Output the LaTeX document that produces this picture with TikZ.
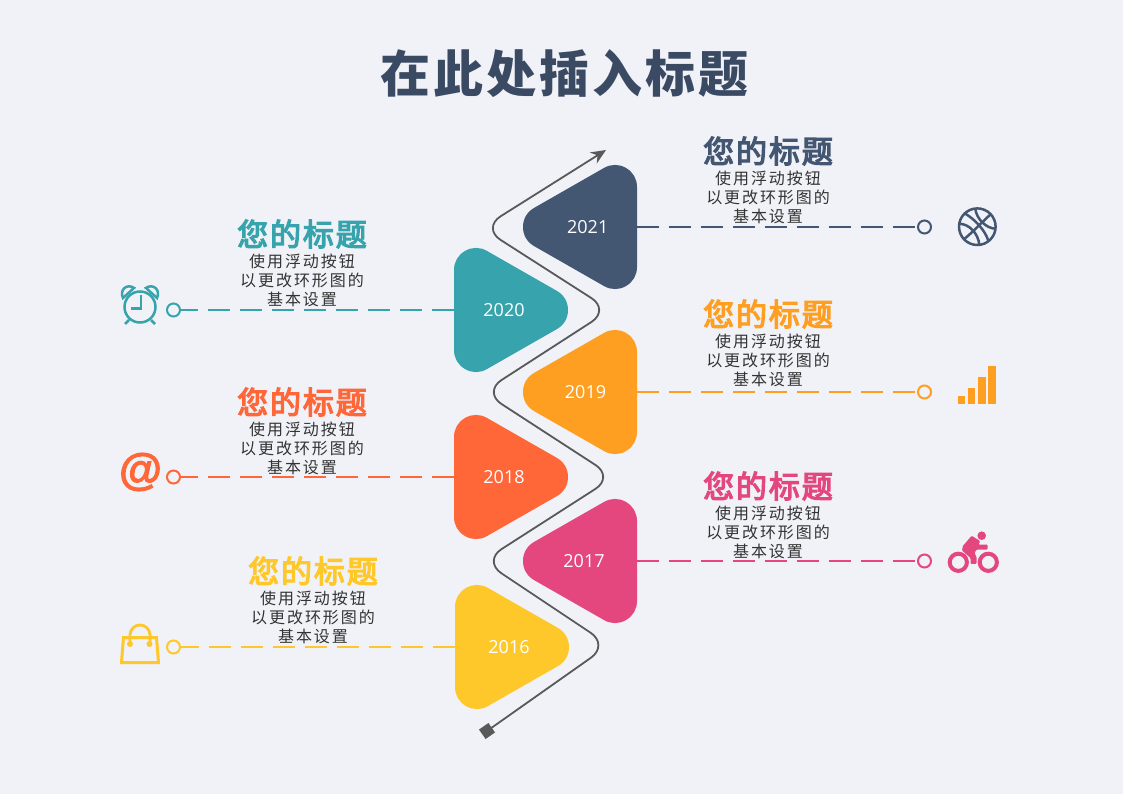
\documentclass[tikz,border=0pt]{standalone}
\usetikzlibrary{arrows.meta}
\usepackage{fontspec}
\setmainfont{Noto Sans CJK SC}
\newfontfamily\titlef[LetterSpace=6]{Noto Sans CJK SC}
\newfontfamily\headf[FakeBold=4,LetterSpace=6]{Noto Sans CJK SC}
\newfontfamily\bodyf[LetterSpace=12]{Noto Sans CJK SC}
\newfontfamily\yearf{Open Sans}
\newfontfamily\atf[FakeBold=2]{Liberation Sans}
\definecolor{bg}{HTML}{F0F2F7}
\definecolor{navy}{HTML}{435672}
\definecolor{titlec}{HTML}{3A4A63}
\definecolor{teal}{HTML}{37A3AC}
\definecolor{orange}{HTML}{FF9F22}
\definecolor{coral}{HTML}{FF6638}
\definecolor{pinkc}{HTML}{E4467E}
\definecolor{yellowc}{HTML}{FFC82A}
\definecolor{pathc}{HTML}{595959}
\tikzset{
  tri/.style={line width=44pt,line join=round},
  yearlabel/.style={text=white,font=\yearf\fontsize{18}{18}\selectfont,inner sep=0pt},
  headlabel/.style={font=\headf\fontsize{31}{31}\selectfont,inner sep=0pt},
  bodylabel/.style={font=\bodyf\fontsize{16}{19}\selectfont,align=center,text=black!80,inner sep=0pt},
  ring/.style={circle,draw,line width=2pt,fill=bg,minimum size=13pt,inner sep=0pt},
  leader/.style={line width=2pt,dash pattern=on 22pt off 10pt},
  iconline/.style={line width=2.5pt},
}
% #1 name, #2 colour, #3 y, #4 year, #5 base edge x, #6 label x
\newcommand{\lefttri}[6]{%
  \filldraw[#2,tri] (#5+22,#3-40) -- (#5+92,#3) -- (#5+22,#3+40) -- cycle;
  \node[yearlabel] (#1) at (#6,#3) {#4};
  \coordinate (#1e) at (#5,#3);
}
\newcommand{\righttri}[6]{%
  \filldraw[#2,tri] (#5-22,#3-40) -- (#5-92,#3) -- (#5-22,#3+40) -- cycle;
  \node[yearlabel] (#1) at (#6,#3) {#4};
  \coordinate (#1e) at (#5,#3);
}
\newcommand{\txt}[4]{% name, colour, cx, head-y
  \node[headlabel,text=#2] (#1h) at (#3,#4) {您的标题};
  \node[bodylabel,anchor=north] (#1b) at (#3,#4+20) {使用浮动按钮\\以更改环形图的\\基本设置};
}
\begin{document}
\begin{tikzpicture}[x=1pt,y=-1pt]
\useasboundingbox (0,0) rectangle (1123,794);
\fill[bg] (0,0) rectangle (1123,794);
\node[font=\titlef\bfseries\fontsize{50}{50}\selectfont,text=titlec,inner sep=0pt] (title) at (564,74) {在此处插入标题};

% winding path
\coordinate (pstart) at (487,731);
\coordinate (pend) at (606,150);
\draw[pathc,line width=1.8pt,rounded corners=22pt,-{Stealth[length=15pt,width=13pt,inset=5pt]}]
  (pstart) -- (609,645) -- (483,561) -- (614,477) -- (483,392) -- (610,310) -- (482,228) -- (pend);
\node[fill=pathc,rotate=35,minimum size=11.5pt,inner sep=0pt] (pbox) at (487,731) {};

% triangles
\righttri{y2021}{navy}{227}{2021}{637}{587.7}
\lefttri{y2020}{teal}{310}{2020}{454}{504}
\righttri{y2019}{orange}{392}{2019}{637}{585.5}
\lefttri{y2018}{coral}{477}{2018}{454}{504}
\righttri{y2017}{pinkc}{561}{2017}{637}{584}
\lefttri{y2016}{yellowc}{647}{2016}{455}{509}

% text
\txt{a}{navy}{768}{151}
\txt{b}{teal}{302}{234}
\txt{c}{orange}{768}{314}
\txt{d}{coral}{302}{402}
\txt{e}{pinkc}{768}{486}
\txt{f}{yellowc}{313}{571}

% leaders
\node[ring,draw=navy] (ra) at (924.5,227) {};
\node[ring,draw=teal] (rb) at (173.5,310) {};
\node[ring,draw=orange] (rc) at (924.5,392) {};
\node[ring,draw=coral] (rd) at (173.5,477) {};
\node[ring,draw=pinkc] (re) at (924.5,561) {};
\node[ring,draw=yellowc] (rf) at (173.5,647) {};
\draw[leader,navy] (y2021e) -- (ra);
\draw[leader,teal] (y2020e) -- (rb);
\draw[leader,orange] (y2019e) -- (rc);
\draw[leader,coral] (y2018e) -- (rd);
\draw[leader,pinkc] (y2017e) -- (re);
\draw[leader,yellowc] (y2016e) -- (rf);

% basketball
\begin{scope}[navy,iconline,shift={(977.3,226.7)}]
  \draw (0,0) circle (18.3);
  \draw (-14,13) .. controls (-5,6) and (5,-5) .. (14,-13);
  \draw (-12,-13) .. controls (-2,-7) and (8,4) .. (11,14);
  \draw (-18.5,-3) .. controls (-8,-3) and (1,7) .. (2,18);
  \draw (-2,-18) .. controls (-1,-8) and (9,2) .. (18.5,2);
\end{scope}
% bars
\fill[orange] (958,396) rectangle (965,404);
\fill[orange] (968,388) rectangle (975,404);
\fill[orange] (978,377) rectangle (986,404);
\fill[orange] (988,366) rectangle (996,404);
% clock
\begin{scope}[teal,iconline,shift={(140,307)}]
  \draw (0,0) circle (15.5);
  \draw[line width=2.6pt] (1,-12) -- (1,1.5) -- (-9,1.5);
  \draw (-17,-9) .. controls (-21,-17) and (-13,-24) .. (-6,-19) -- cycle;
  \draw (17,-9) .. controls (21,-17) and (13,-24) .. (6,-19) -- cycle;
  \draw (-11,13) -- (-15,17);
  \draw (11,13) -- (15,17);
\end{scope}
% at sign
\node[text=coral,inner sep=0pt,font=\atf\bfseries\fontsize{44}{44}\selectfont] (at) at (140.5,472) {@};
% bag
\begin{scope}[yellowc,shift={(140,645)}]
  \draw[line width=3pt] (-16.5,-7.5) -- (16.5,-7.5) -- (18.5,17.5) -- (-18.5,17.5) -- cycle;
  \draw[line width=2.8pt] (-10,-1) -- (-10,-10) arc (180:360:10) -- (10,-1);
  \fill (-10,-1) circle (3);
  \fill (9.5,-1) circle (3);
\end{scope}
% bicycle
\begin{scope}[pinkc]
  \draw[line width=4pt] (958.3,562.3) circle (8.6);
  \draw[line width=4pt] (988.3,562.3) circle (8.6);
  \fill (981.7,535.7) circle (4.3);
  \fill[rounded corners=1pt] (971.7,535.7) -- (980.3,541.2) -- (978.3,544.5) -- (987.6,544.5) -- (987.6,549.5) -- (976.5,549.5) -- (974.5,553.3) -- (976.5,556.7) -- (976.5,563.8) -- (970.5,563.8) -- (970.5,558) -- (962,550.5) -- (962.8,546) -- cycle;
\end{scope}
\end{tikzpicture}
\end{document}
